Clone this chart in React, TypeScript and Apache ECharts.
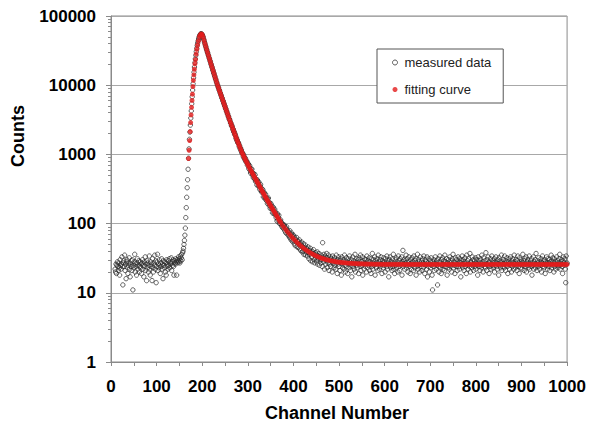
import React, { useEffect, useRef } from "react";
import * as echarts from "echarts";

// Measured data: one value per channel, starting at channel 9
const measuredStart = 9;
const measuredCounts = [
  // 9-157 background before the peak
  22,20,26,19,25,28,24,21,27,23,18,30,25,22,26,33,24,13,27,29,
  24,35,21,26,16,28,30,23,19,25,27,32,22,17,26,24,29,21,30,11,
  25,23,28,36,20,26,24,18,27,31,22,25,29,20,24,28,23,26,19,27,
  30,22,25,17,28,24,33,21,26,15,29,23,27,20,25,34,22,18,28,24,
  26,15,31,23,20,27,25,35,22,29,14,24,28,36,21,26,23,30,25,19,
  27,24,31,22,26,16,29,25,23,28,20,27,18,30,24,26,22,29,25,31,
  23,27,26,32,21,28,25,30,24,18,29,27,26,31,28,18,30,27,29,33,
  28,31,27,34,29,32,36,30,38,
  // 158-170 rising edge
  40,44,50,57,68,86,122,170,240,330,430,610,880,
  // 171-200 peak
  1200,1650,2100,2650,3350,4250,5400,6800,8500,10500,12800,15400,18300,21200,24000,
  27000,30500,34000,37500,40500,43500,46500,49000,51000,53000,54300,55100,55300,54600,53500,
  // 201-260
  51500,49800,46700,44600,41900,39900,37600,35900,33700,32300,
  30400,29300,27500,26500,24900,24000,22600,21800,20400,19700,
  18500,17900,16700,16200,15100,14700,13700,13300,12400,12050,
  11250,10900,10200,9950,9330,9120,8550,8360,7830,7660,
  7170,7030,6570,6440,6020,5900,5510,5410,5050,4960,
  4620,4550,4230,4170,3870,3830,3540,3510,3250,3220,
  // 261-300
  3060,2850,2830,2610,2620,2500,2290,2320,2110,2140,
  1950,1990,1870,1700,1740,1580,1620,1470,1490,1440,
  1300,1340,1210,1240,1130,1160,1040,1060,1030,930,
  980,880,910,830,870,780,805,790,700,740,
  // 301-372
  726,623,662,689,590,538,617,555,611,503,
  537,460,528,484,443,507,406,416,434,361,
  427,392,352,400,350,313,352,368,304,286,
  318,285,308,243,276,279,241,227,266,234,
  214,231,195,228,235,195,182,201,166,185,
  193,165,178,143,162,172,140,145,161,134,
  147,122,134,109,138,114,123,132,101,111,100,113,
  // 373-499
  104,92,101,88,97,85,93,
  95,79,88,74,84,90,71,80,76,68,
  75,64,79,62,70,58,73,66,55,69,
  57,66,51,62,48,59,54,63,47,56,
  45,55,50,58,43,52,41,49,54,39,
  47,40,51,36,45,42,49,35,44,38,
  43,34,46,38,31,41,36,44,29,39,
  33,40,28,37,42,30,35,27,38,32,
  36,29,39,26,34,31,37,25,33,30,
  27,35,30,24,53,33,28,36,22,31,
  34,26,29,37,23,32,27,35,21,30,
  26,33,24,31,28,20,34,27,30,23,
  32,25,29,22,35,27,19,30,26,33,
  // 500-1000
  24,29,21,31,27,18,33,26,23,30,28,22,35,25,20,29,32,24,27,19,
  31,26,23,34,28,21,25,30,17,27,33,24,29,22,26,36,20,28,25,31,
  23,27,30,19,32,26,24,35,21,28,25,33,18,29,27,22,31,26,24,30,
  20,34,27,23,29,25,32,21,28,26,19,31,24,37,22,27,30,25,33,18,
  26,29,23,31,27,21,35,25,28,22,30,24,33,26,19,29,27,23,32,25,
  28,20,31,26,24,34,22,29,27,17,30,25,33,23,28,26,21,31,24,36,
  22,27,19,30,25,32,23,28,26,20,34,24,29,21,31,27,25,33,18,28,
  41,24,30,26,22,29,27,35,23,31,25,20,28,33,24,26,19,30,27,22,
  32,25,28,21,34,26,23,29,31,18,27,24,36,22,30,25,28,20,33,26,
  24,29,21,31,27,23,34,26,19,30,25,28,22,33,17,27,24,31,20,26,
  29,23,32,25,18,11,28,24,30,21,27,33,26,22,29,25,13,31,24,20,
  28,34,23,27,19,30,25,32,22,26,29,21,35,24,28,26,31,18,27,23,
  30,25,22,33,27,24,29,20,31,26,36,23,28,25,19,32,27,24,30,21,
  26,33,24,28,22,31,27,17,29,25,34,23,30,26,21,28,32,24,27,19,
  35,25,29,22,31,26,24,37,20,28,27,23,33,25,30,21,26,29,24,32,
  22,27,30,25,18,33,26,24,29,21,31,27,23,35,25,28,20,32,26,24,
  29,23,38,26,21,30,25,33,27,19,28,24,31,22,26,34,25,29,23,27,
  31,20,28,25,33,24,27,22,30,26,18,32,25,29,23,27,35,21,28,24,
  26,30,23,34,27,21,29,25,32,24,19,28,26,31,22,27,33,25,20,29,
  24,31,27,22,35,26,28,23,30,25,21,29,34,24,27,19,32,26,23,28,
  30,22,27,36,25,29,21,31,26,24,33,20,28,25,30,23,27,34,22,26,
  29,24,31,18,27,25,33,22,28,26,30,23,37,25,21,29,27,24,32,26,
  22,28,25,31,20,27,34,24,29,26,23,30,19,28,25,33,26,22,31,27,
  24,30,21,28,26,35,23,29,25,32,27,20,31,24,28,22,26,33,25,29,
  23,27,31,25,36,22,28,26,30,24,19,29,33,27,25,31,22,14,34,26,
  27,
];

// Fitting curve: rising flank dots (channel, counts)
const fitRiseChannels = [170, 171.3, 172.5, 173.6, 174.6, 175.6, 176.6, 177.6, 178.6, 179.6, 180.6, 181.7, 182.8, 184.0, 185.3, 186.7, 188.2, 189.8, 191.6, 193.8, 196.0];
const fitRiseCounts = [871, 1148, 1585, 2138, 2884, 3715, 4786, 6026, 7413, 9550, 11750, 14130, 16980, 20420, 23440, 28180, 33110, 38020, 43650, 50120, 53700];

// Fitting curve: decay, every 2 channels from 198
const fitDecayStart = 198;
const fitDecayStep = 2;
const fitDecayCounts = [
  54950, 53700, 49550, 44460, 39810, 35810, 32140, 29110, 26360, 23880,
  21630, 19590, 17740, 16070, 14560, 13180, 11940, 10820, 9850, 9030,
  8270, 7580, 6940, 6360, 5830, 5340, 4890, 4480, 4110, 3760,
  3450, 3160, 2910, 2680, 2460, 2270, 2090, 1920, 1770, 1630,
  1510, 1400, 1300, 1205, 1117, 1035, 973, 914, 859, 807,
  759, 713, 670, 632, 598, 566, 535, 506, 479, 453,
  429, 406, 384, 364, 344, 326, 308, 291, 276, 261,
  247, 234, 222, 211, 201, 191, 181, 172, 164, 156,
  148, 141, 134, 127, 121, 115, 109, 104,
];

// Fitting curve: tail, every 4 channels from 376
const fitTailStart = 376;
const fitTailStep = 4;
const fitTailCounts = [
  94.5, 87.1, 80.5, 74.6, 69.3, 64.6, 60.4, 56.6, 53.3, 50.3,
  47.7, 45.3, 43.2, 41.3, 39.6, 38.1, 36.8, 35.6, 34.5, 33.6,
  32.7, 31.9, 31.3, 30.7, 30.1, 29.7, 29.2, 28.9, 28.5, 28.2,
  27.9, 27.7, 27.5, 27.3, 27.1, 27.0, 26.8, 26.7, 26.6, 26.5,
  26.4, 26.3, 26.3, 26.2, 26.2, 26.1, 26.1, 26.0, 26.0, 26.0,
  25.9, 25.9, 25.9, 25.9, 25.8, 25.8,
  25.8, 25.8, 25.8, 25.8, 25.8, 25.8, 25.8, 25.8, 25.8, 25.8, 25.8,
  25.7, 25.7, 25.7, 25.7, 25.7, 25.7, 25.7, 25.7, 25.7, 25.7,
  25.7, 25.7, 25.7, 25.7, 25.7, 25.7, 25.7, 25.7, 25.7, 25.7,
  25.7, 25.7, 25.7, 25.7, 25.7, 25.7, 25.7, 25.7, 25.7, 25.7,
  25.7, 25.7, 25.7, 25.7, 25.7, 25.7, 25.7, 25.7, 25.7, 25.7,
  25.7, 25.7, 25.7, 25.7, 25.7, 25.7, 25.7, 25.7, 25.7, 25.7,
  25.7, 25.7, 25.7, 25.7, 25.7, 25.7, 25.7, 25.7, 25.7, 25.7,
  25.7, 25.7, 25.7, 25.7, 25.7, 25.7, 25.7, 25.7, 25.7, 25.7,
  25.7, 25.7, 25.7, 25.7, 25.7, 25.7, 25.7, 25.7, 25.7, 25.7,
  25.7, 25.7, 25.7, 25.7, 25.7, 25.7, 25.7, 25.7, 25.7, 25.7,
];

const yMinorTicks = [
  2, 3, 4, 5, 6, 7, 8, 9,
  20, 30, 40, 50, 60, 70, 80, 90,
  200, 300, 400, 500, 600, 700, 800, 900,
  2000, 3000, 4000, 5000, 6000, 7000, 8000, 9000,
  20000, 30000, 40000, 50000, 60000, 70000, 80000, 90000,
];

const seriesNames = ["measured data", "fitting curve"];
const xTitle = "Channel Number";
const yTitle = "Counts";

export default function App() {
  const ref = useRef<HTMLDivElement>(null);
  useEffect(() => {
    if (!ref.current) return;
    const chart = echarts.init(ref.current, null, { renderer: "svg" });
    const measured = measuredCounts.map((v, i) => [measuredStart + i, v]);
    const fit = [
      ...fitRiseChannels.map((c, i) => [c, fitRiseCounts[i]]),
      ...fitDecayCounts.map((v, i) => [fitDecayStart + i * fitDecayStep, v]),
      ...fitTailCounts.map((v, i) => [fitTailStart + i * fitTailStep, v]),
    ];
    const font = "'Liberation Sans', Arial, Helvetica, sans-serif";
    const axisGray = "#8a8a8a";
    const red = "#e31b1b";
    chart.setOption({
      animation: false,
      backgroundColor: "#ffffff",
      grid: {
        left: 111,
        right: 20,
        top: 16,
        bottom: 65,
        show: true,
        borderColor: axisGray,
        borderWidth: 1,
        backgroundColor: "transparent",
      },
      xAxis: {
        type: "value",
        min: 0,
        max: 1000,
        interval: 50,
        axisLine: { show: true, lineStyle: { color: axisGray, width: 1 } },
        axisTick: { show: true, inside: false, length: 4, lineStyle: { color: axisGray } },
        axisLabel: {
          margin: 16,
          formatter: (v: number) => (Math.round(v) % 100 === 0 ? String(Math.round(v)) : ""),
          fontFamily: font,
          fontWeight: "bold",
          fontSize: 17,
          color: "#000",
        },
        splitLine: { show: false },
      },
      yAxis: [
        {
          type: "log",
          logBase: 10,
          min: 1,
          max: 100000,
          axisLine: { show: true, lineStyle: { color: axisGray, width: 1 } },
          axisTick: { show: true, inside: false, length: 5, lineStyle: { color: axisGray } },
          axisLabel: {
            margin: 15,
            formatter: (v: number) => String(Math.round(v)),
            fontFamily: font,
            fontWeight: "bold",
            fontSize: 17,
            color: "#000",
          },
          splitLine: { show: true, lineStyle: { color: "#a8a8a8", width: 1 } },
        },
        {
          type: "log",
          logBase: 10,
          min: 1,
          max: 100000,
          position: "left",
          axisLine: { show: false },
          axisLabel: { show: false },
          splitLine: { show: false },
          axisTick: { show: true, inside: false, length: 3, customValues: yMinorTicks, lineStyle: { color: axisGray } },
        },
      ],
      legend: {
        left: 377,
        top: 49,
        orient: "vertical",
        itemGap: 14,
        itemWidth: 5,
        itemHeight: 5,
        padding: [7, 12, 7, 15],
        borderColor: "#555",
        borderWidth: 1,
        backgroundColor: "#fff",
        textStyle: { fontFamily: font, fontSize: 13, color: "#222", padding: [0, 0, 0, 2] },
        data: [
          { name: seriesNames[0], icon: "circle", itemStyle: { color: "#fff", borderColor: "#333", borderWidth: 1 } },
          { name: seriesNames[1], icon: "circle", itemStyle: { color: red, borderWidth: 0 } },
        ],
      },
      graphic: [
        {
          type: "text",
          x: 18,
          y: 136,
          rotation: Math.PI / 2,
          style: {
            text: yTitle,
            fontFamily: font,
            fontWeight: "bold",
            fontSize: 18,
            fill: "#000",
            align: "center",
            verticalAlign: "middle",
            textAlign: "center",
            textVerticalAlign: "middle",
          },
        },
        {
          type: "text",
          x: 337,
          y: 413,
          style: {
            text: xTitle,
            fontFamily: font,
            fontWeight: "bold",
            fontSize: 18,
            fill: "#000",
            align: "center",
            verticalAlign: "middle",
            textAlign: "center",
            textVerticalAlign: "middle",
          },
        },
      ],
      series: [
        {
          name: seriesNames[0],
          type: "scatter",
          data: measured,
          symbol: "circle",
          symbolSize: 4.4,
          itemStyle: { color: "rgba(255,255,255,0)", borderColor: "#2a2a2a", borderWidth: 0.9 },
          z: 2,
        },
        {
          name: seriesNames[1],
          type: "scatter",
          data: fit,
          symbol: "circle",
          symbolSize: 5,
          itemStyle: { color: red },
          z: 3,
        },
      ],
    });
    return () => chart.dispose();
  }, []);
  return <div ref={ref} style={{ position: "fixed", left: 0, top: 0, width: 589, height: 427 }} />;
}
